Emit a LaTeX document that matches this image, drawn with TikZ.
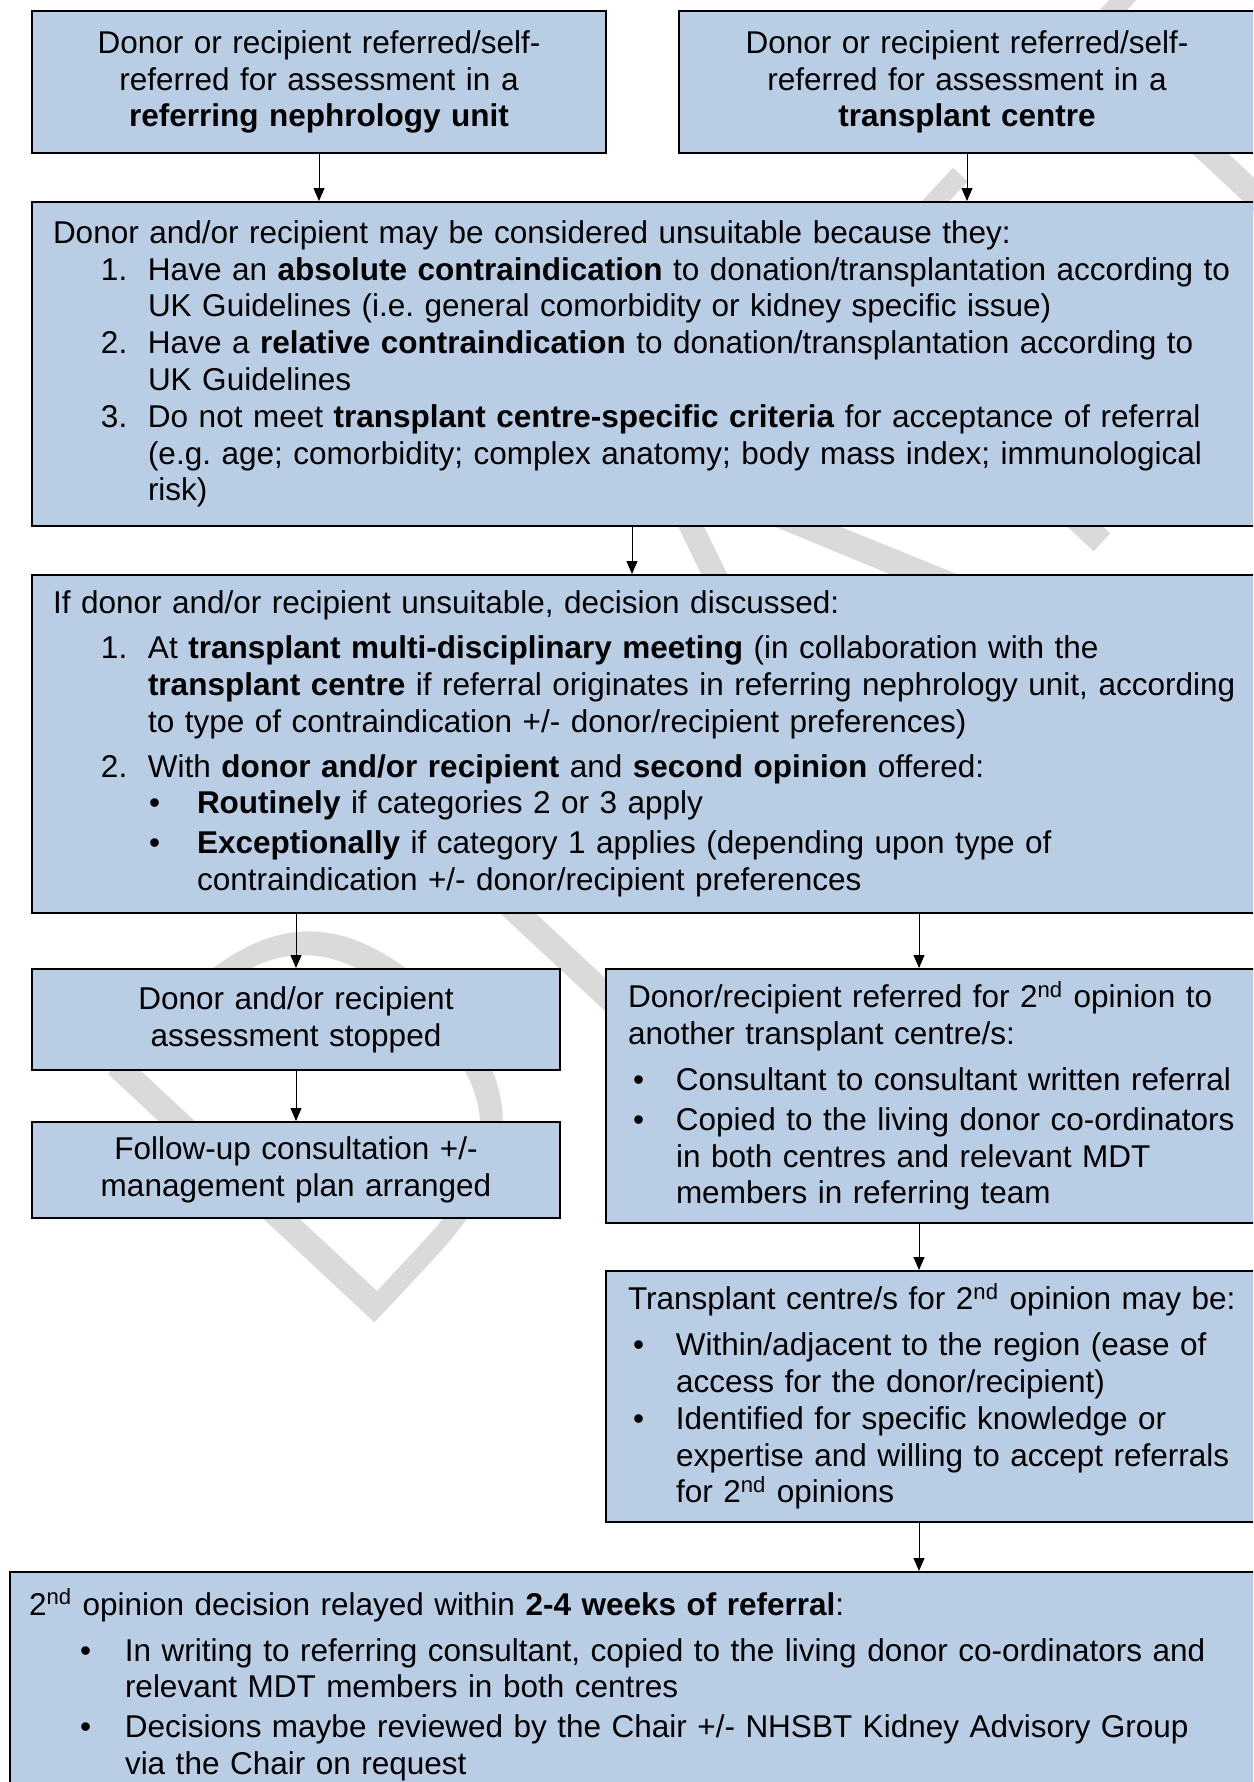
\documentclass[tikz,border=0pt]{standalone}
\usepackage{fontspec}
\setmainfont{Liberation Sans}
\newfontfamily\markfont{DejaVuSans-ExtraLight.ttf}
\usetikzlibrary{arrows.meta, positioning, calc}
\definecolor{boxblue}{HTML}{B9CDE5}
\definecolor{wmgray}{HTML}{DADADA}
\setlength{\parindent}{0pt}
\frenchspacing

% one numbered or bulleted line: label at #1, text hanging at #2
\newcommand{\listline}[4]{\par\hangindent=#2\hangafter=1\noindent
  \hspace*{#1}\makebox[\dimexpr#2-#1\relax][l]{#3}#4}
\newcommand{\itemgap}[1]{\par\vspace{#1}}

\tikzset{
  flowbox/.style={draw=black, line width=1pt, fill=boxblue, inner ysep=0pt,
                  font=\fontsize{15.75}{18.4}\selectfont, anchor=north west},
  centrebox/.style={flowbox, align=center, inner xsep=6pt},
  listbox/.style={flowbox, align=left, inner xsep=10.5pt},
  flowarrow/.style={-{Triangle[length=6.5pt,width=5.5pt]}, line width=0.5pt},
}

\begin{document}
\begin{tikzpicture}[x=0.5pt, y=-0.5pt]
  \useasboundingbox (0,0) rectangle (1253,1782);
  \clip (0,0) rectangle (1253,1782);

  % watermark
  \node[rotate=47, anchor=base west, inner sep=0pt, text=wmgray,
        font=\markfont\fontsize{250}{250}\selectfont] (wm) at (333,1368) {DRAFT};

  % referral boxes
  \node[centrebox, text width=275pt, minimum width=287pt, minimum height=71pt] (unit) at (31,10)
    {Donor or recipient referred/self-\\referred for assessment in a\\\textbf{referring nephrology unit}};
  \node[centrebox, text width=276pt, minimum width=288pt, minimum height=71pt] (centre) at (678,10)
    {Donor or recipient referred/self-\\referred for assessment in a\\\textbf{transplant centre}};

  % unsuitable
  \node[listbox, text width=639pt, minimum height=162pt] (unsuit) at (31,201) {%
    Donor and/or recipient may be considered unsuitable because they:
    \listline{24pt}{47.5pt}{1.}{Have an \textbf{absolute contraindication} to donation/transplantation according to\newline UK Guidelines (i.e. general comorbidity or kidney specific issue)}
    \listline{24pt}{47.5pt}{2.}{Have a \textbf{relative contraindication} to donation/transplantation according to\newline UK Guidelines}
    \listline{24pt}{47.5pt}{3.}{Do not meet \textbf{transplant centre-specific criteria} for acceptance of referral\newline (e.g. age; comorbidity; complex anatomy; body mass index; immunological\newline risk)}\par};

  % decision discussed
  \node[listbox, text width=639pt, minimum height=169pt] (discuss) at (31,574) {%
    If donor and/or recipient unsuitable, decision discussed:\itemgap{4pt}
    \listline{24pt}{47.5pt}{1.}{At \textbf{transplant multi-disciplinary meeting} (in collaboration with the\newline \textbf{transplant centre} if referral originates in referring nephrology unit, according\newline to type of contraindication +/- donor/recipient preferences)}\itemgap{4pt}
    \listline{24pt}{47.5pt}{2.}{With \textbf{donor and/or recipient} and \textbf{second opinion} offered:}
    \listline{48pt}{72pt}{\textbullet}{\textbf{Routinely} if categories 2 or 3 apply}\itemgap{1.5pt}
    \listline{48pt}{72pt}{\textbullet}{\textbf{Exceptionally} if category 1 applies (depending upon type of\newline contraindication +/- donor/recipient preferences}\par};

  % left branch
  \node[centrebox, text width=252pt, minimum width=264pt, minimum height=50.5pt] (stopped) at (31,968)
    {Donor and/or recipient\\assessment stopped};
  \node[centrebox, text width=252pt, minimum width=264pt, minimum height=48pt] (followup) at (31,1121)
    {Follow-up consultation +/-\\management plan arranged};

  % right branch
  \node[listbox, inner xsep=11pt, text width=318pt, minimum height=127pt] (second) at (605,968) {%
    Donor/recipient referred for 2\textsuperscript{nd} opinion to\newline another transplant centre/s:\itemgap{4.5pt}
    \listline{2.5pt}{24pt}{\textbullet}{Consultant to consultant written referral}\itemgap{1.5pt}
    \listline{2.5pt}{24pt}{\textbullet}{Copied to the living donor co-ordinators\newline in both centres and relevant MDT\newline members in referring team}\par};
  \node[listbox, inner xsep=11pt, text width=318pt, minimum height=125.5pt] (options) at (605,1270) {%
    Transplant centre/s for 2\textsuperscript{nd} opinion may be:\itemgap{4.5pt}
    \listline{2.5pt}{24pt}{\textbullet}{Within/adjacent to the region (ease of\newline access for the donor/recipient)}
    \listline{2.5pt}{24pt}{\textbullet}{Identified for specific knowledge or\newline expertise and willing to accept referrals\newline for 2\textsuperscript{nd} opinions}\par};

  % outcome
  \node[listbox, inner xsep=9.5pt, text width=640pt, minimum height=113pt] (relay) at (9,1571) {%
    2\textsuperscript{nd} opinion decision relayed within \textbf{2-4 weeks of referral}:\itemgap{4.5pt}
    \listline{25.5pt}{48pt}{\textbullet}{In writing to referring consultant, copied to the living donor co-ordinators and\newline relevant MDT members in both centres}\itemgap{1.5pt}
    \listline{25.5pt}{48pt}{\textbullet}{Decisions maybe reviewed by the Chair +/- NHSBT Kidney Advisory Group\newline via the Chair on request}\par};

  % connectors
  \coordinate (mid) at (632,0);
  \coordinate (rcol) at (919,0);
  \draw[flowarrow] (unit.south) -- (unit.south |- unsuit.north);
  \draw[flowarrow] (centre.south) -- (centre.south |- unsuit.north);
  \draw[flowarrow] (unsuit.south -| mid) -- (discuss.north -| mid);
  \draw[flowarrow] (stopped.north |- discuss.south) -- (stopped.north);
  \draw[flowarrow] (discuss.south -| rcol) -- (second.north -| rcol);
  \draw[flowarrow] (stopped.south) -- (followup.north);
  \draw[flowarrow] (second.south -| rcol) -- (options.north -| rcol);
  \draw[flowarrow] (options.south -| rcol) -- (relay.north -| rcol);
\end{tikzpicture}
\end{document}
